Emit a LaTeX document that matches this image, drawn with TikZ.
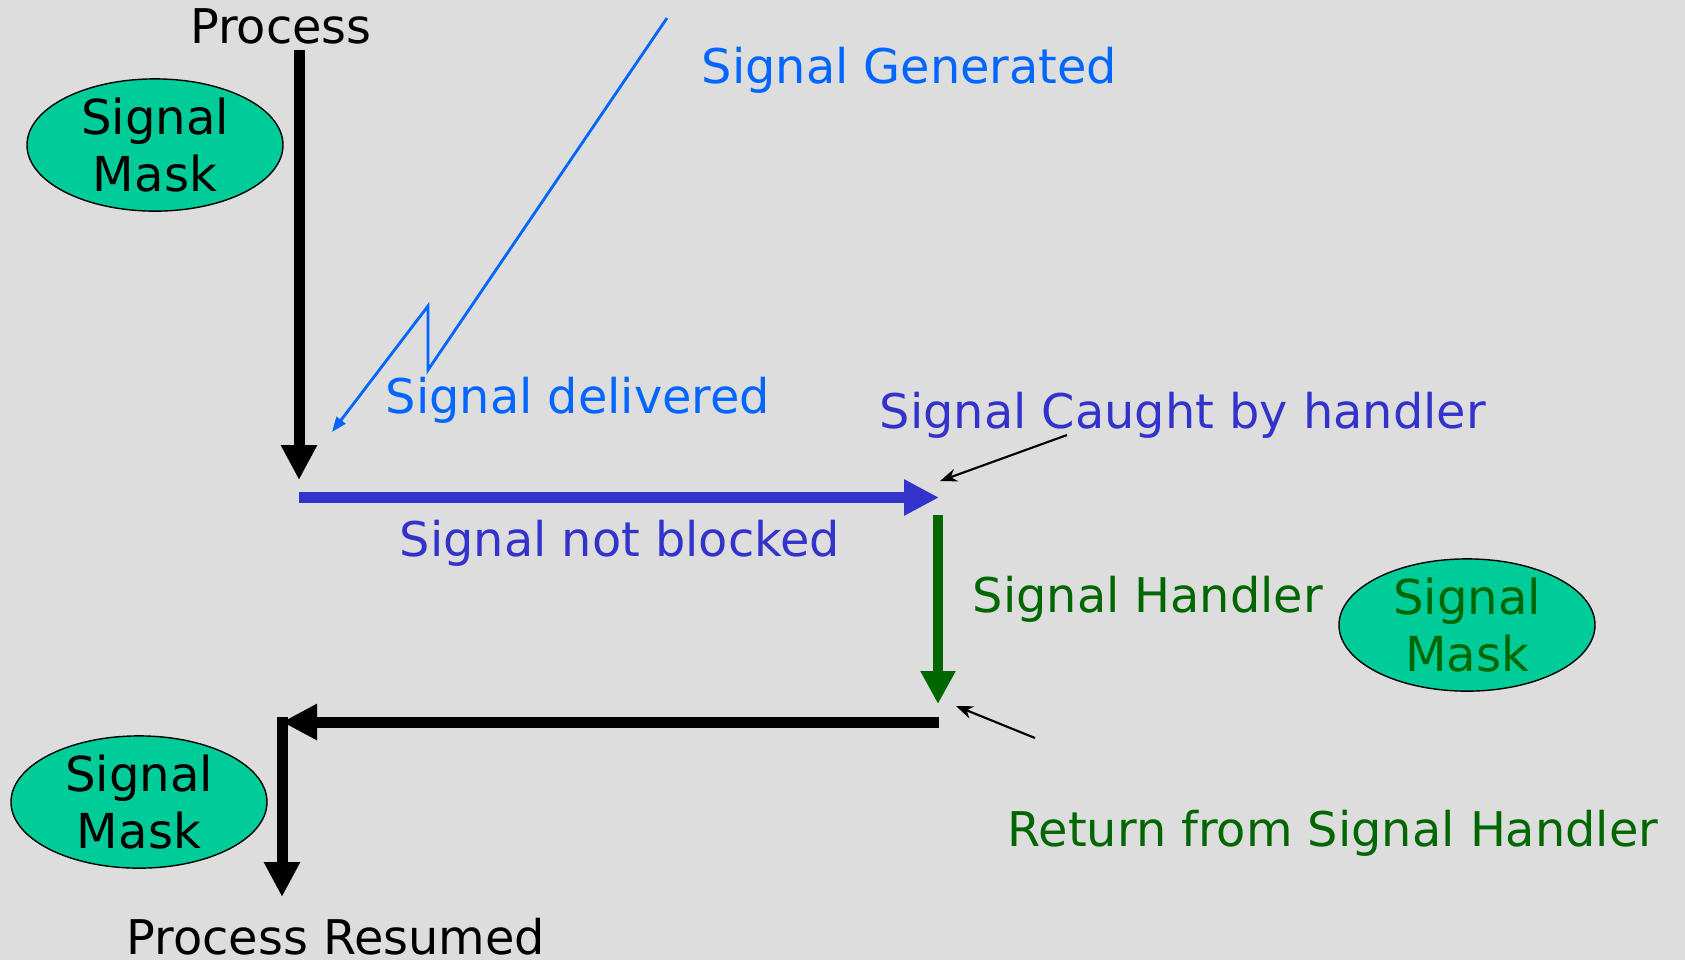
\documentclass[tikz,border=0pt]{standalone}
\usepackage{fontspec}
\setmainfont{DejaVu Sans}
\usetikzlibrary{arrows.meta, shapes.geometric, positioning}

\definecolor{bggray}{HTML}{DDDDDD}
\definecolor{maskgreen}{HTML}{00CC99}
\definecolor{sigblue}{HTML}{0066FF}
\definecolor{catchblue}{HTML}{3333CC}
\definecolor{handgreen}{HTML}{006600}

\tikzset{
  lbl/.style={font=\fontsize{13.6}{16}\selectfont, inner sep=0pt},
  mask/.style={ellipse, draw=black, fill=maskgreen, minimum width=2.56cm, minimum height=1.29cm,
    inner sep=0pt, align=center, font=\fontsize{13.7}{16}\selectfont},
  flow/.style={line width=0.11cm, -{Triangle[length=0.35cm,width=0.34cm]}},
  pointer/.style={line width=0.6pt, -{Stealth[length=0.17cm,width=0.13cm]}},
}

\begin{document}
\begin{tikzpicture}
    \useasboundingbox[fill=bggray] (0,0) rectangle (16.85,-9.6);

    % texts
    \node[lbl, anchor=base] (proc) at (2.81,-0.43) {Process};
    \node[lbl, anchor=base west, text=sigblue] (gen) at (7.01,-0.83) {Signal Generated};
    \node[lbl, anchor=base west, text=sigblue] (deliv) at (3.85,-4.13) {Signal delivered};
    \node[lbl, anchor=base west, text=catchblue] (caught) at (8.79,-4.28) {Signal Caught by handler};
    \node[lbl, anchor=base, text=catchblue] (notblk) at (6.20,-5.56) {Signal not blocked};
    \node[lbl, anchor=base west, text=handgreen] (hand) at (9.72,-6.12) {Signal Handler};
    \node[lbl, anchor=base west, text=handgreen] (ret) at (10.07,-8.46) {Return from Signal Handler};
    \node[lbl, anchor=base] (resumed) at (3.36,-9.54) {Process Resumed};

    % signal masks
    \node[mask] (maskA) at (1.55,-1.45) {Signal\\Mask};
    \node[mask, text=handgreen] (maskB) at (14.67,-6.25) {Signal\\Mask};
    \node[mask] (maskC) at (1.39,-8.02) {Signal\\Mask};

    % path points
    \coordinate (pTop) at (2.99,-0.50);
    \coordinate (pBot) at (2.99,-4.80);
    \coordinate (bStart) at (2.99,-4.975);
    \coordinate (bEnd) at (9.39,-4.975);
    \coordinate (hTop) at (9.38,-5.15);
    \coordinate (hBot) at (9.38,-7.04);
    \coordinate (rStart) at (9.39,-7.22);
    \coordinate (rEnd) at (2.82,-7.22);
    \coordinate (dTop) at (2.82,-7.17);
    \coordinate (dBot) at (2.82,-8.97);

    \draw[flow] (pTop) -- (pBot);
    \draw[flow, catchblue] (bStart) -- (bEnd);
    \draw[flow, handgreen, line width=0.10cm, -{Triangle[length=0.33cm,width=0.33cm]}] (hTop) -- (hBot);
    \draw[flow] (rStart) -- (rEnd);
    \draw[flow] (dTop) -- (dBot);

    % lightning
    \coordinate (zTop) at (6.67,-0.18);
    \coordinate (zTip) at (3.32,-4.32);
    \draw[sigblue, line width=0.8pt, -{Triangle[length=0.15cm,width=0.11cm]}]
        (zTop) -- (4.28,-3.70) -- (4.28,-3.06) -- (zTip);

    % pointers
    \coordinate (cFrom) at (10.67,-4.35);
    \coordinate (cTo) at (9.40,-4.81);
    \coordinate (rFrom) at (10.35,-7.38);
    \coordinate (rTo) at (9.56,-7.06);
    \draw[pointer] (cFrom) -- (cTo);
    \draw[pointer] (rFrom) -- (rTo);
\end{tikzpicture}
\end{document}
